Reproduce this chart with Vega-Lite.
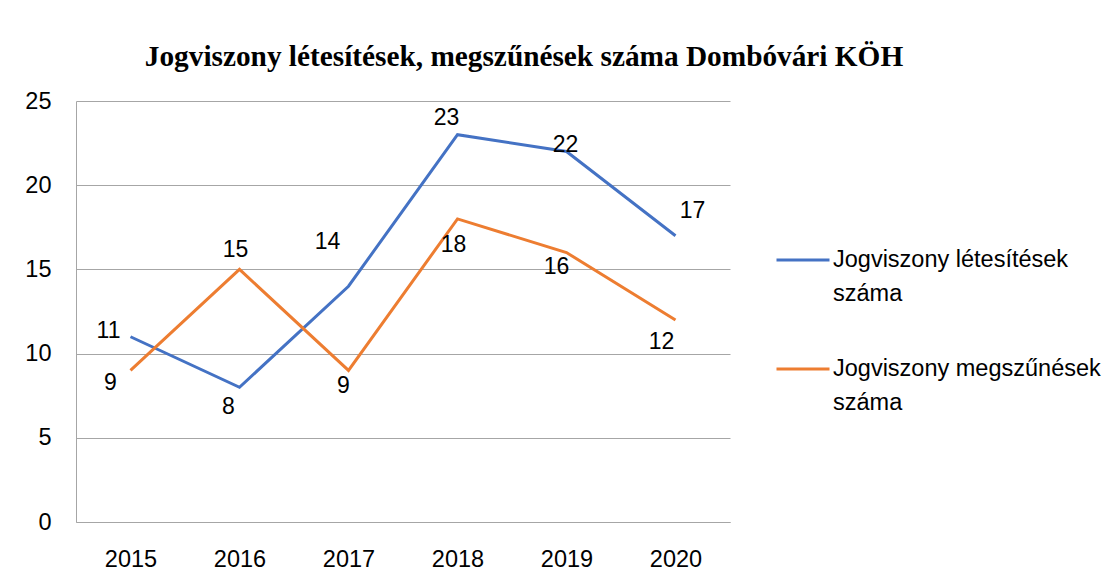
{
  "$schema": "https://vega.github.io/schema/vega-lite/v6.json",
  "autosize": {"type": "none"},
  "padding": {"left": 76, "top": 101, "right": 378, "bottom": 61},
  "width": 654,
  "height": 421,
  "background": "white",
  "title": {
    "text": "Jogviszony létesítések, megszűnések száma Dombóvári KÖH",
    "font": "Liberation Serif",
    "fontWeight": "bold",
    "fontSize": 29.3,
    "color": "#000000",
    "anchor": "middle",
    "frame": "group",
    "dx": 121,
    "offset": 17
  },
  "config": {
    "view": {"stroke": null},
    "axis": {
      "labelFont": "Liberation Sans",
      "labelFontSize": 23.5,
      "labelColor": "#000000",
      "domainColor": "#a6a6a6",
      "gridColor": "#a6a6a6",
      "ticks": false,
      "tickSize": 0,
      "title": null
    },
    "legend": {"padding": 0}
  },
  "data": {
    "values": [
      {"year": "2015", "series": "Jogviszony létesítések száma", "value": 11},
      {"year": "2016", "series": "Jogviszony létesítések száma", "value": 8},
      {"year": "2017", "series": "Jogviszony létesítések száma", "value": 14},
      {"year": "2018", "series": "Jogviszony létesítések száma", "value": 23},
      {"year": "2019", "series": "Jogviszony létesítések száma", "value": 22},
      {"year": "2020", "series": "Jogviszony létesítések száma", "value": 17},
      {"year": "2015", "series": "Jogviszony megszűnések száma", "value": 9},
      {"year": "2016", "series": "Jogviszony megszűnések száma", "value": 15},
      {"year": "2017", "series": "Jogviszony megszűnések száma", "value": 9},
      {"year": "2018", "series": "Jogviszony megszűnések száma", "value": 18},
      {"year": "2019", "series": "Jogviszony megszűnések száma", "value": 16},
      {"year": "2020", "series": "Jogviszony megszűnések száma", "value": 12}
    ]
  },
  "encoding": {
    "x": {
      "field": "year",
      "type": "ordinal",
      "axis": {"labelAngle": 0, "grid": false, "domain": true, "labelPadding": 25}
    },
    "y": {
      "field": "value",
      "type": "quantitative",
      "scale": {"domain": [0, 25]},
      "axis": {"values": [0, 5, 10, 15, 20, 25], "grid": true, "domain": true, "labelPadding": 25}
    }
  },
  "layer": [
    {
      "mark": {"type": "line", "strokeWidth": 3},
      "encoding": {
        "color": {
          "field": "series",
          "type": "nominal",
          "scale": {
            "domain": ["Jogviszony létesítések száma", "Jogviszony megszűnések száma"],
            "range": ["#4472C4", "#ED7D31"]
          },
          "legend": {
            "title": null,
            "orient": "none",
            "legendX": 699,
            "legendY": 131,
            "symbolType": "stroke",
            "symbolSize": 2809,
            "symbolStrokeWidth": 3,
            "labelFont": "Liberation Sans",
            "labelFontSize": 23.5,
            "labelColor": "#000000",
            "labelLimit": 500,
            "labelOffset": 2,
            "rowPadding": 35,
            "labelBaseline": "middle",
            "labelExpr": "datum.label == 'Jogviszony létesítések száma' ? ['Jogviszony létesítések', 'száma'] : ['Jogviszony megszűnések', 'száma']",
            "encode": {"labels": {"update": {"lineHeight": {"value": 34}}}}
          }
        }
      }
    },
    {
      "transform": [{"filter": "datum.year == '2015' && datum.series == 'Jogviszony létesítések száma'"}],
      "mark": {"type": "text", "font": "Liberation Sans", "fontSize": 23, "color": "#000000", "dx": -22, "dy": -6},
      "encoding": {"text": {"field": "value", "type": "quantitative"}}
    },
    {
      "transform": [{"filter": "datum.year == '2016' && datum.series == 'Jogviszony létesítések száma'"}],
      "mark": {"type": "text", "font": "Liberation Sans", "fontSize": 23, "color": "#000000", "dx": -11, "dy": 20},
      "encoding": {"text": {"field": "value", "type": "quantitative"}}
    },
    {
      "transform": [{"filter": "datum.year == '2017' && datum.series == 'Jogviszony létesítések száma'"}],
      "mark": {"type": "text", "font": "Liberation Sans", "fontSize": 23, "color": "#000000", "dx": -21, "dy": -44},
      "encoding": {"text": {"field": "value", "type": "quantitative"}}
    },
    {
      "transform": [{"filter": "datum.year == '2018' && datum.series == 'Jogviszony létesítések száma'"}],
      "mark": {"type": "text", "font": "Liberation Sans", "fontSize": 23, "color": "#000000", "dx": -11, "dy": -17},
      "encoding": {"text": {"field": "value", "type": "quantitative"}}
    },
    {
      "transform": [{"filter": "datum.year == '2019' && datum.series == 'Jogviszony létesítések száma'"}],
      "mark": {"type": "text", "font": "Liberation Sans", "fontSize": 23, "color": "#000000", "dx": -1, "dy": -7},
      "encoding": {"text": {"field": "value", "type": "quantitative"}}
    },
    {
      "transform": [{"filter": "datum.year == '2020' && datum.series == 'Jogviszony létesítések száma'"}],
      "mark": {"type": "text", "font": "Liberation Sans", "fontSize": 23, "color": "#000000", "dx": 17, "dy": -25},
      "encoding": {"text": {"field": "value", "type": "quantitative"}}
    },
    {
      "transform": [{"filter": "datum.year == '2015' && datum.series == 'Jogviszony megszűnések száma'"}],
      "mark": {"type": "text", "font": "Liberation Sans", "fontSize": 23, "color": "#000000", "dx": -20, "dy": 13},
      "encoding": {"text": {"field": "value", "type": "quantitative"}}
    },
    {
      "transform": [{"filter": "datum.year == '2016' && datum.series == 'Jogviszony megszűnések száma'"}],
      "mark": {"type": "text", "font": "Liberation Sans", "fontSize": 23, "color": "#000000", "dx": -4, "dy": -19},
      "encoding": {"text": {"field": "value", "type": "quantitative"}}
    },
    {
      "transform": [{"filter": "datum.year == '2017' && datum.series == 'Jogviszony megszűnések száma'"}],
      "mark": {"type": "text", "font": "Liberation Sans", "fontSize": 23, "color": "#000000", "dx": -5, "dy": 16},
      "encoding": {"text": {"field": "value", "type": "quantitative"}}
    },
    {
      "transform": [{"filter": "datum.year == '2018' && datum.series == 'Jogviszony megszűnések száma'"}],
      "mark": {"type": "text", "font": "Liberation Sans", "fontSize": 23, "color": "#000000", "dx": -4, "dy": 26},
      "encoding": {"text": {"field": "value", "type": "quantitative"}}
    },
    {
      "transform": [{"filter": "datum.year == '2019' && datum.series == 'Jogviszony megszűnések száma'"}],
      "mark": {"type": "text", "font": "Liberation Sans", "fontSize": 23, "color": "#000000", "dx": -10, "dy": 14},
      "encoding": {"text": {"field": "value", "type": "quantitative"}}
    },
    {
      "transform": [{"filter": "datum.year == '2020' && datum.series == 'Jogviszony megszűnések száma'"}],
      "mark": {"type": "text", "font": "Liberation Sans", "fontSize": 23, "color": "#000000", "dx": -14, "dy": 22},
      "encoding": {"text": {"field": "value", "type": "quantitative"}}
    }
  ]
}
